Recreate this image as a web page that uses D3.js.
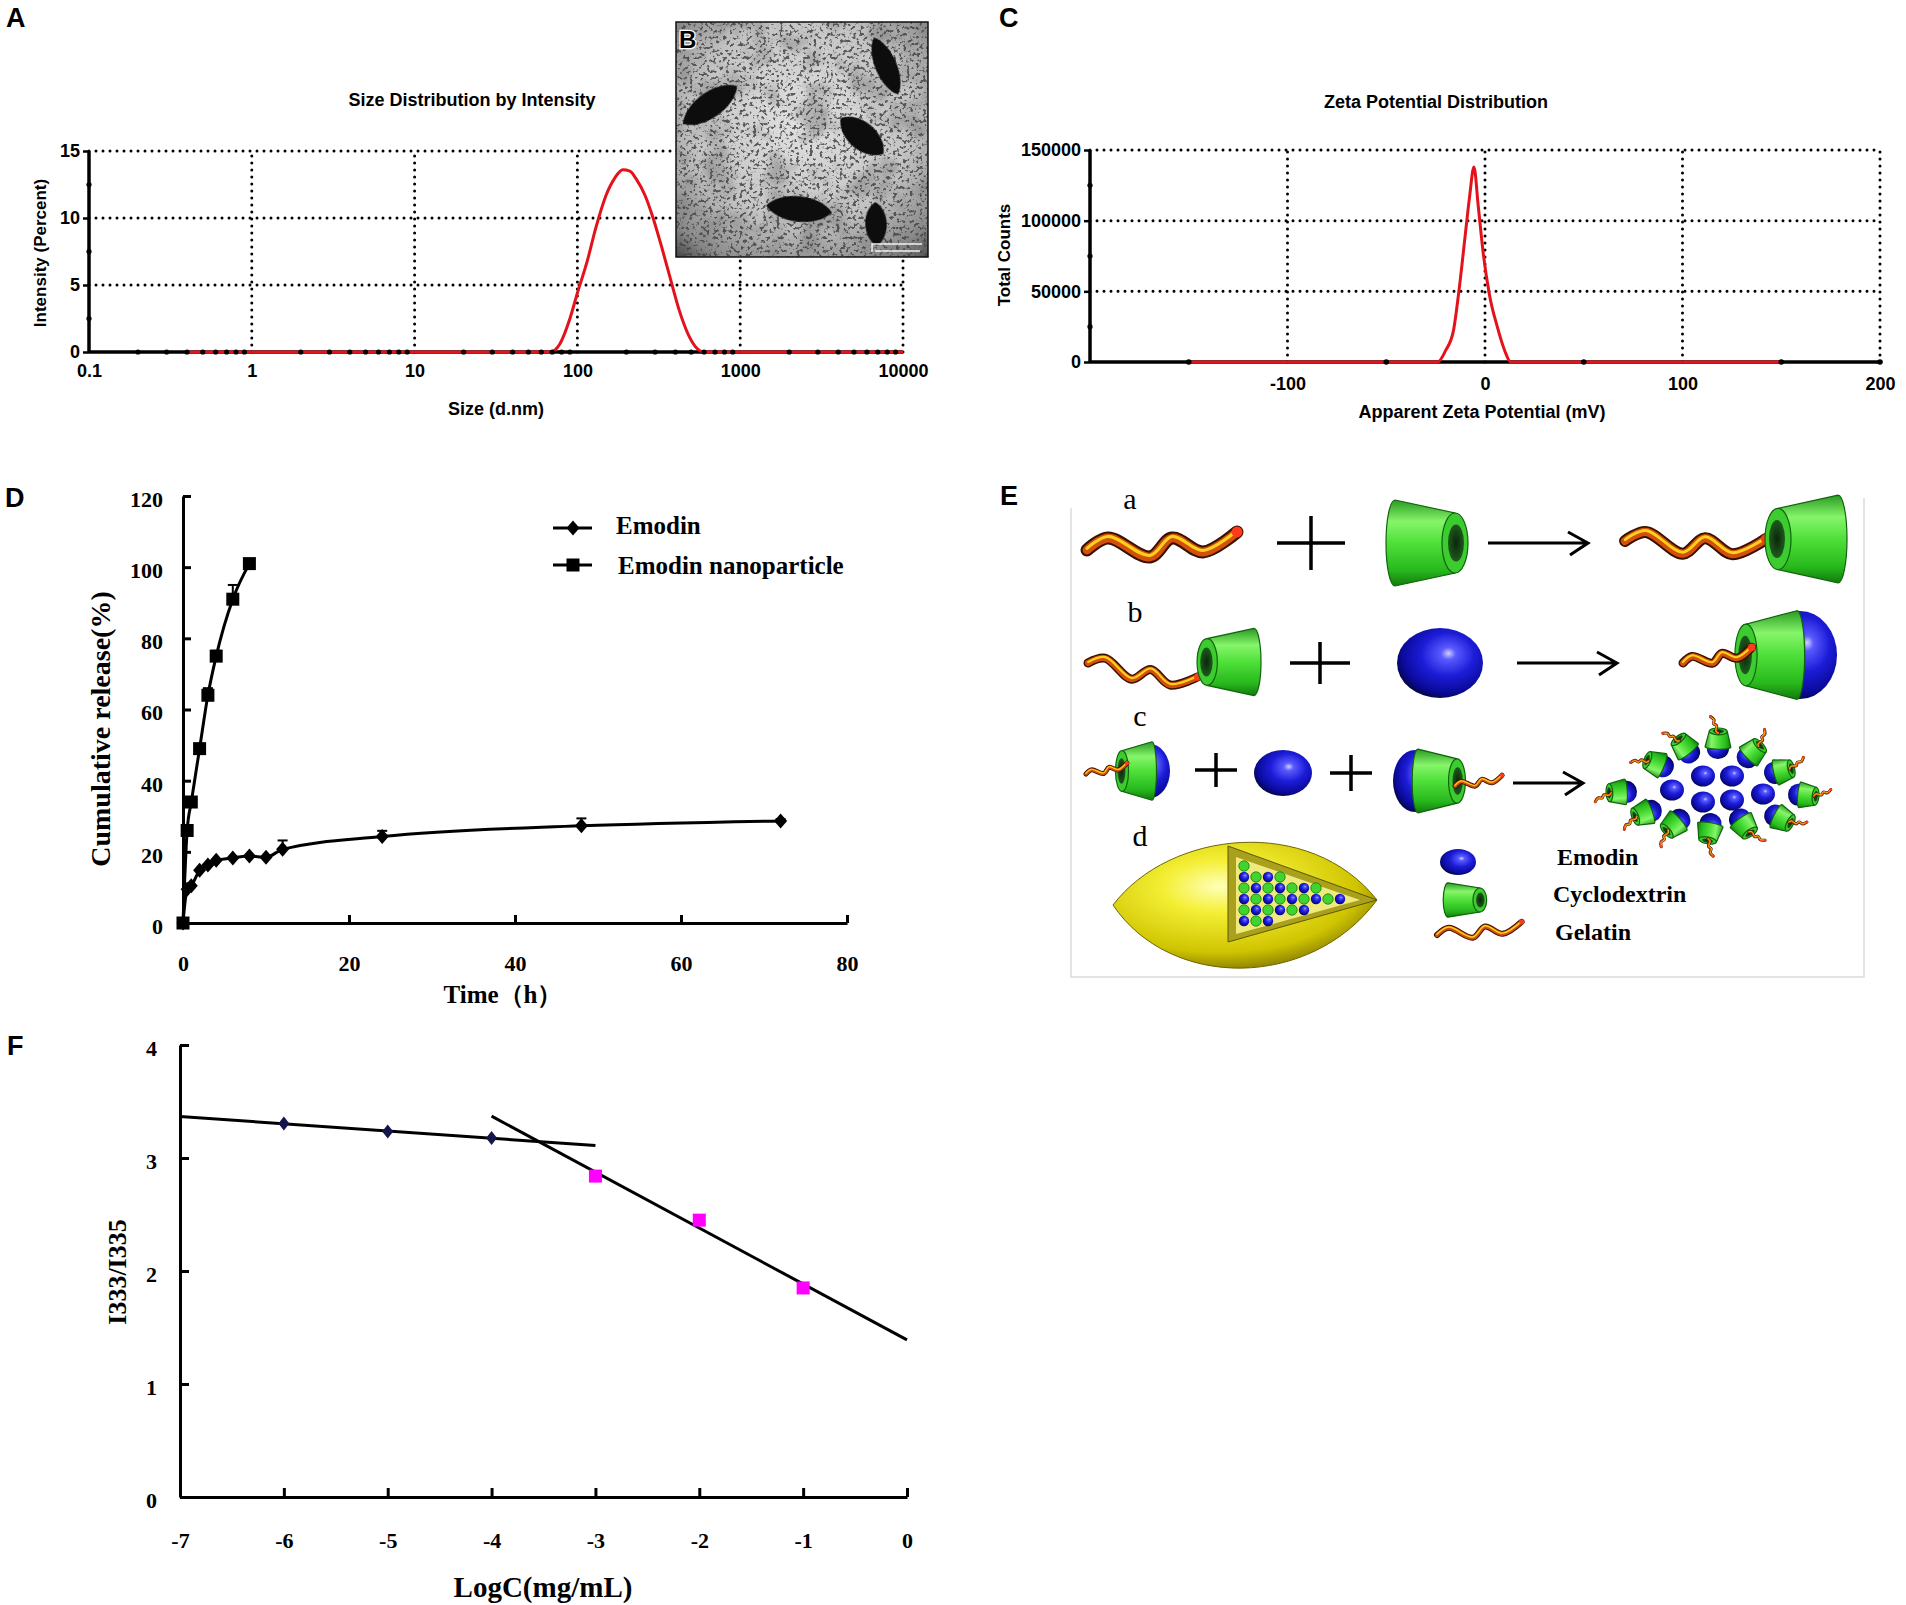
<!DOCTYPE html>
<html>
<head>
<meta charset="utf-8">
<script src="https://cdn.jsdelivr.net/npm/d3@7"></script>
<style>
  body { margin: 0; background: #fff; }
  .dot { stroke: #000; stroke-width: 3; stroke-dasharray: 0 7; stroke-linecap: round; fill: none; }
</style>
</head>
<body>
<div id="fig"></div>
<script>
// ---------- data ----------
// A: size distribution by intensity
var sizeNm = [0.4, 68, 78, 90, 100, 115, 130, 150, 170, 190, 210, 230, 260, 290, 330, 370, 420, 480, 540, 600, 10000];
var sizeIntensity = [0, 0, 0.6, 2.5, 4.4, 6.8, 9.3, 11.7, 13.0, 13.6, 13.5, 12.9, 11.7, 10.1, 7.8, 5.6, 3.2, 1.3, 0.3, 0, 0];
var sizeTicks = [0.1, 1, 10, 100, 1000, 10000];
var intensityTicks = [0, 5, 10, 15];
var intensityMinor = [2.5, 7.5, 12.5];

// C: zeta potential distribution
var zetaMv = [-150, -24, -20, -16, -13.4, -10.3, -7.8, -5.6, -3.4, -0.9, 2.2, 6.2, 10, 13, 150];
var zetaCounts = [0, 0, 8000, 22000, 48000, 86000, 117000, 138000, 110000, 77000, 48000, 25000, 8000, 0, 0];
var zetaTicks = [-100, 0, 100, 200];
var zetaMinor = [-150, -50, 50, 150];
var countTicks = [0, 50000, 100000, 150000];
var countMinor = [25000, 75000, 125000];

// D: cumulative release
var nanoTime = [0, 0.5, 1, 2, 3, 4, 6, 8];
var nanoRelease = [0, 26, 34, 49, 64, 75, 91, 101];
var nanoErr = [0, 0, 0.5, 1, 2, 1.5, 4, 0.5];
var emodinTime = [0, 0.5, 1, 2, 3, 4, 6, 8, 10, 12, 24, 48, 72];
var emodinRelease = [0, 9.5, 10.5, 14.8, 16.3, 17.6, 18.3, 18.8, 18.5, 20.7, 24.3, 27.3, 28.7];
var emodinErr = [0, 0, 0, 0, 0, 0, 0, 0, 0, 2.5, 1.6, 2.1, 0.5];
var timeTicks = [0, 20, 40, 60, 80];
var releaseTicks = [0, 20, 40, 60, 80, 100, 120];
var releaseSeries = ["Emodin", "Emodin nanoparticle"];

// F: I333/I335 vs LogC
var logCLow = [-6, -5, -4];
var ratioLow = [3.305, 3.235, 3.176];
var logCHigh = [-3, -2, -1];
var ratioHigh = [2.84, 2.45, 1.85];
var lowFitRange = [-7, -3];
var highFitRange = [-4, 0];
var logCTicks = [-7, -6, -5, -4, -3, -2, -1, 0];
var ratioTicks = [0, 1, 2, 3, 4];

// E: legend names
var schemeNames = ["Emodin", "Cyclodextrin", "Gelatin"];

var SANS = "'Liberation Sans', Arial, sans-serif";
var SERIF = "'Liberation Serif', 'Times New Roman', serif";

var svg = d3.select("#fig").append("svg")
    .attr("width", 1906).attr("height", 1605)
    .style("background", "#fff");
var defs = svg.append("defs");

function zip(a, b) { return a.map(function(v, i) { return [v, b[i]]; }); }
function plain(d) { return String(d); }

function styleAxis(g, family, size, weight, width) {
  g.attr("font-family", family).attr("font-size", size).attr("font-weight", weight);
  g.selectAll("text").attr("fill", "#000");
  g.selectAll("line").attr("stroke", "#000").attr("stroke-width", width);
  g.select(".domain").attr("stroke", "#000").attr("stroke-width", width);
}

function panelLabel(t, x, y) {
  svg.append("text").attr("x", x).attr("y", y).text(t)
      .style("font-family", SANS).style("font-weight", "bold").style("font-size", "27px");
}

function sansText(g, t, x, y, size, rot) {
  return g.append("text")
      .attr("transform", "translate(" + x + "," + y + ")" + (rot ? " rotate(" + rot + ")" : ""))
      .attr("text-anchor", "middle")
      .style("font-family", SANS).style("font-weight", "bold").style("font-size", size + "px")
      .text(t);
}

// ---------- Panel A ----------
var xA = d3.scaleLog().domain([0.1, 10000]).range([89, 903]);
var yA = d3.scaleLinear().domain([0, 15]).range([352, 151]);
var gA = svg.append("g");

gA.selectAll(".hgA").data(intensityTicks.slice(1)).enter().append("line")
    .attr("class", "dot")
    .attr("x1", xA(0.1)).attr("x2", xA(10000))
    .attr("y1", function(d) { return yA(d); }).attr("y2", function(d) { return yA(d); });
gA.selectAll(".vgA").data(sizeTicks.slice(1)).enter().append("line")
    .attr("class", "dot")
    .attr("x1", function(d) { return xA(d); }).attr("x2", function(d) { return xA(d); })
    .attr("y1", yA(0)).attr("y2", yA(15));

gA.append("line").attr("x1", xA(0.1)).attr("x2", xA(0.1)).attr("y1", yA(0)).attr("y2", yA(15))
    .attr("stroke", "#000").attr("stroke-width", 3.5);
gA.append("line").attr("x1", xA(0.1)).attr("x2", xA(10000)).attr("y1", yA(0)).attr("y2", yA(0))
    .attr("stroke", "#000").attr("stroke-width", 3.5);

gA.append("path")
    .datum(zip(sizeNm, sizeIntensity))
    .attr("fill", "none").attr("stroke", "#e3121b").attr("stroke-width", 3)
    .attr("d", d3.line().x(function(d) { return xA(d[0]); }).y(function(d) { return yA(d[1]); }).curve(d3.curveMonotoneX));

var sizeMinor = xA.ticks().filter(function(t) { return sizeTicks.indexOf(t) < 0; });
gA.selectAll(".mxA").data(sizeMinor).enter().append("circle")
    .attr("cx", function(d) { return xA(d); }).attr("cy", yA(0)).attr("r", 2.6).attr("fill", "#000");
gA.selectAll(".myA").data(intensityMinor).enter().append("circle")
    .attr("cx", xA(0.1)).attr("cy", function(d) { return yA(d); }).attr("r", 2.6).attr("fill", "#000");

gA.append("g").attr("transform", "translate(0," + yA(0) + ")")
    .call(d3.axisBottom(xA).tickValues(sizeTicks).tickFormat(plain).tickSize(0).tickPadding(12))
    .call(function(g) { g.select(".domain").remove(); styleAxis(g, SANS, 18, "bold", 2); });
gA.append("g").attr("transform", "translate(" + xA(0.1) + ",0)")
    .call(d3.axisLeft(yA).tickValues(intensityTicks).tickFormat(plain).tickSize(6).tickPadding(3))
    .call(function(g) { g.select(".domain").remove(); styleAxis(g, SANS, 18, "bold", 2.5); });

sansText(gA, "Size Distribution by Intensity", 472, 106, 18);
sansText(gA, "Size (d.nm)", 496, 415, 18);
sansText(gA, "Intensity (Percent)", 46, 253, 17, -90);

// inset B: TEM picture
var inset = { x: 676, y: 22, w: 252, h: 235 };
var bg = defs.append("radialGradient").attr("id", "temBg").attr("cx", 0.5).attr("cy", 0.42).attr("r", 0.78);
bg.append("stop").attr("offset", 0).attr("stop-color", "#e2e2e2");
bg.append("stop").attr("offset", 0.55).attr("stop-color", "#c4c4c4");
bg.append("stop").attr("offset", 0.85).attr("stop-color", "#8a8a8a");
bg.append("stop").attr("offset", 1).attr("stop-color", "#3a3a3a");
var fSpeck = defs.append("filter").attr("id", "speck").attr("x", 0).attr("y", 0).attr("width", 1).attr("height", 1);
fSpeck.append("feTurbulence").attr("type", "fractalNoise").attr("baseFrequency", 0.3).attr("numOctaves", 2).attr("seed", 11);
fSpeck.append("feColorMatrix").attr("type", "matrix")
    .attr("values", "0 0 0 0 0.06  0 0 0 0 0.06  0 0 0 0 0.06  -8 0 0 0 3.6");
var fCloud = defs.append("filter").attr("id", "cloud").attr("x", 0).attr("y", 0).attr("width", 1).attr("height", 1);
fCloud.append("feTurbulence").attr("type", "fractalNoise").attr("baseFrequency", 0.03).attr("numOctaves", 3).attr("seed", 4);
fCloud.append("feColorMatrix").attr("type", "matrix")
    .attr("values", "0 0 0 0 0.2  0 0 0 0 0.2  0 0 0 0 0.2  -3.2 0 0 0 1.75");
var fSoft = defs.append("filter").attr("id", "soft");
fSoft.append("feGaussianBlur").attr("stdDeviation", 0.7);

var gB = svg.append("g");
gB.append("rect").attr("x", inset.x).attr("y", inset.y).attr("width", inset.w).attr("height", inset.h).attr("fill", "url(#temBg)");
gB.append("rect").attr("x", inset.x).attr("y", inset.y).attr("width", inset.w).attr("height", inset.h).attr("fill", "#000").attr("filter", "url(#cloud)").attr("opacity", 0.5);
gB.append("rect").attr("x", inset.x).attr("y", inset.y).attr("width", inset.w).attr("height", inset.h).attr("fill", "#000").attr("filter", "url(#speck)").attr("opacity", 0.85);
// particles: centre x, centre y, half length, half width, angle
var particles = [[886, 66, 31, 11, 67], [710, 105, 33, 13, -35], [862, 136, 28, 14, 40], [799, 209, 33, 13, 6], [876, 224, 22, 11, 88]];
gB.selectAll(".part").data(particles).enter().append("path")
    .attr("transform", function(d) { return "translate(" + d[0] + "," + d[1] + ") rotate(" + d[4] + ")"; })
    .attr("d", function(d) {
      var l = d[2], w = d[3];
      return "M" + (-l) + ",0C" + (-l * 0.6) + "," + (-w * 1.3) + " " + (l * 0.6) + "," + (-w * 1.3) + " " + l + ",0" +
             "C" + (l * 0.6) + "," + (w * 1.3) + " " + (-l * 0.6) + "," + (w * 1.3) + " " + (-l) + ",0Z";
    })
    .attr("fill", "#0c0c0c").attr("filter", "url(#soft)");
gB.append("path").attr("d", "M872,252 L872,244 L922,244 M875,251 L920,251")
    .attr("stroke", "#f2f2f2").attr("stroke-width", 1.5).attr("fill", "none");
gB.append("rect").attr("x", inset.x).attr("y", inset.y).attr("width", inset.w).attr("height", inset.h)
    .attr("fill", "none").attr("stroke", "#111").attr("stroke-width", 1.5);
gB.append("text").attr("x", inset.x + 3).attr("y", inset.y + 26).text("B")
    .style("font-family", SANS).style("font-weight", "bold").style("font-size", "24px")
    .attr("fill", "#000").attr("stroke", "#fff").attr("stroke-width", 2.5).style("paint-order", "stroke");

// ---------- Panel C ----------
var xC = d3.scaleLinear().domain([-200, 200]).range([1090, 1880]);
var yC = d3.scaleLinear().domain([0, 150000]).range([362, 150]);
var gC = svg.append("g");

gC.selectAll(".hgC").data(countTicks.slice(1)).enter().append("line")
    .attr("class", "dot")
    .attr("x1", xC(-200)).attr("x2", xC(200))
    .attr("y1", function(d) { return yC(d); }).attr("y2", function(d) { return yC(d); });
gC.selectAll(".vgC").data(zetaTicks).enter().append("line")
    .attr("class", "dot")
    .attr("x1", function(d) { return xC(d); }).attr("x2", function(d) { return xC(d); })
    .attr("y1", yC(0)).attr("y2", yC(150000));

gC.append("line").attr("x1", xC(-200)).attr("x2", xC(-200)).attr("y1", yC(0)).attr("y2", yC(150000))
    .attr("stroke", "#000").attr("stroke-width", 3.5);
gC.append("line").attr("x1", xC(-200)).attr("x2", xC(200)).attr("y1", yC(0)).attr("y2", yC(0))
    .attr("stroke", "#000").attr("stroke-width", 3.5);

gC.append("path")
    .datum(zip(zetaMv, zetaCounts))
    .attr("fill", "none").attr("stroke", "#e3121b").attr("stroke-width", 3)
    .attr("d", d3.line().x(function(d) { return xC(d[0]); }).y(function(d) { return yC(d[1]); }).curve(d3.curveMonotoneX));

gC.selectAll(".mxC").data(zetaMinor.concat([200])).enter().append("circle")
    .attr("cx", function(d) { return xC(d); }).attr("cy", yC(0)).attr("r", 2.8).attr("fill", "#000");
gC.selectAll(".myC").data(countMinor).enter().append("circle")
    .attr("cx", xC(-200)).attr("cy", function(d) { return yC(d); }).attr("r", 2.6).attr("fill", "#000");

gC.append("g").attr("transform", "translate(0," + yC(0) + ")")
    .call(d3.axisBottom(xC).tickValues(zetaTicks).tickFormat(plain).tickSize(0).tickPadding(15))
    .call(function(g) { g.select(".domain").remove(); styleAxis(g, SANS, 18, "bold", 2); });
gC.append("g").attr("transform", "translate(" + xC(-200) + ",0)")
    .call(d3.axisLeft(yC).tickValues(countTicks).tickFormat(plain).tickSize(6).tickPadding(3))
    .call(function(g) { g.select(".domain").remove(); styleAxis(g, SANS, 18, "bold", 2.5); });

sansText(gC, "Zeta Potential Distribution", 1436, 108, 18);
sansText(gC, "Apparent Zeta Potential (mV)", 1482, 418, 18);
sansText(gC, "Total Counts", 1010, 255, 17, -90);

// ---------- Panel D ----------
var xD = d3.scaleLinear().domain([0, 80]).range([183, 847]);
var yD = d3.scaleLinear().domain([0, 120]).range([923, 496]);
var gD = svg.append("g");

gD.append("g").attr("transform", "translate(0," + yD(0) + ")")
    .call(d3.axisBottom(xD).tickValues(timeTicks).tickFormat(plain).tickSizeInner(-8).tickSizeOuter(0).tickPadding(32))
    .call(function(g) { styleAxis(g, SERIF, 22, "bold", 3); });
gD.append("g").attr("transform", "translate(" + xD(0) + ",0)")
    .call(d3.axisLeft(yD).tickValues(releaseTicks).tickFormat(plain).tickSizeInner(-8).tickSizeOuter(0).tickPadding(20))
    .call(function(g) { styleAxis(g, SERIF, 22, "bold", 3); g.selectAll("text").attr("dy", "0.47em"); });

var lineD = d3.line().x(function(d) { return xD(d[0]); }).y(function(d) { return yD(d[1]); }).curve(d3.curveMonotoneX);
var diamond = "M0,-7.5L6.5,0L0,7.5L-6.5,0Z";

function releaseSeriesDraw(times, vals, errs, marker) {
  var pts = times.map(function(t, i) { return { t: t, v: vals[i], e: errs[i] }; });
  gD.append("path").datum(zip(times, vals)).attr("d", lineD)
      .attr("fill", "none").attr("stroke", "#000").attr("stroke-width", 3);
  var eb = gD.selectAll(null).data(pts.filter(function(p) { return p.e > 0; })).enter().append("g");
  eb.append("line").attr("x1", function(p) { return xD(p.t); }).attr("x2", function(p) { return xD(p.t); })
      .attr("y1", function(p) { return yD(p.v); }).attr("y2", function(p) { return yD(p.v + p.e); })
      .attr("stroke", "#000").attr("stroke-width", 2);
  eb.append("line").attr("x1", function(p) { return xD(p.t) - 5; }).attr("x2", function(p) { return xD(p.t) + 5; })
      .attr("y1", function(p) { return yD(p.v + p.e); }).attr("y2", function(p) { return yD(p.v + p.e); })
      .attr("stroke", "#000").attr("stroke-width", 2);
  if (marker === "square") {
    gD.selectAll(null).data(pts).enter().append("rect")
        .attr("x", function(p) { return xD(p.t) - 6.5; }).attr("y", function(p) { return yD(p.v) - 6.5; })
        .attr("width", 13).attr("height", 13).attr("fill", "#000");
  } else {
    gD.selectAll(null).data(pts).enter().append("path")
        .attr("transform", function(p) { return "translate(" + xD(p.t) + "," + yD(p.v) + ")"; })
        .attr("d", diamond).attr("fill", "#000");
  }
}
releaseSeriesDraw(emodinTime, emodinRelease, emodinErr, "diamond");
releaseSeriesDraw(nanoTime, nanoRelease, nanoErr, "square");

// legend D
var legD = gD.append("g");
releaseSeries.forEach(function(name, i) {
  var ly = 528 + i * 37;
  legD.append("line").attr("x1", 553).attr("x2", 592).attr("y1", ly).attr("y2", ly).attr("stroke", "#000").attr("stroke-width", 3);
  if (i === 0) {
    legD.append("path").attr("transform", "translate(573," + ly + ")").attr("d", diamond).attr("fill", "#000");
  } else {
    legD.append("rect").attr("x", 566.5).attr("y", ly - 6.5).attr("width", 13).attr("height", 13).attr("fill", "#000");
  }
  legD.append("text").attr("x", 616 + i * 2).attr("y", ly + 6 + i * 3).text(name)
      .style("font-family", SERIF).style("font-weight", "bold").style("font-size", "25px");
});

gD.append("text").attr("transform", "translate(110,729) rotate(-90)").attr("text-anchor", "middle").text("Cumulative release(%)")
    .style("font-family", SERIF).style("font-weight", "bold").style("font-size", "28px");
gD.append("text").attr("x", 503).attr("y", 1003).attr("text-anchor", "middle").text("Time（h）")
    .style("font-family", SERIF).style("font-weight", "bold").style("font-size", "25px");

// ---------- Panel F ----------
var xF = d3.scaleLinear().domain([-7, 0]).range([180, 907]);
var yF = d3.scaleLinear().domain([0, 4]).range([1497, 1045]);
var gF = svg.append("g");

gF.append("g").attr("transform", "translate(0," + yF(0) + ")")
    .call(d3.axisBottom(xF).tickValues(logCTicks).tickFormat(plain).tickSizeInner(-9).tickSizeOuter(0).tickPadding(35))
    .call(function(g) { styleAxis(g, SERIF, 22, "bold", 3); });
gF.append("g").attr("transform", "translate(" + xF(-7) + ",0)")
    .call(d3.axisLeft(yF).tickValues(ratioTicks).tickFormat(plain).tickSizeInner(-9).tickSizeOuter(0).tickPadding(23))
    .call(function(g) { styleAxis(g, SERIF, 22, "bold", 3); g.selectAll("text").attr("dy", "0.47em"); });

function fit(xs, ys) {
  var mx = d3.mean(xs), my = d3.mean(ys);
  var sxy = d3.sum(xs, function(x, i) { return (x - mx) * (ys[i] - my); });
  var sxx = d3.sum(xs, function(x) { return (x - mx) * (x - mx); });
  var b = sxy / sxx;
  return function(x) { return my + b * (x - mx); };
}
var fLow = fit(logCLow, ratioLow), fHigh = fit(logCHigh, ratioHigh);
[[lowFitRange, fLow], [highFitRange, fHigh]].forEach(function(p) {
  gF.append("line")
      .attr("x1", xF(p[0][0])).attr("y1", yF(p[1](p[0][0])))
      .attr("x2", xF(p[0][1])).attr("y2", yF(p[1](p[0][1])))
      .attr("stroke", "#000").attr("stroke-width", 3);
});
gF.selectAll(".dF").data(zip(logCLow, ratioLow)).enter().append("path")
    .attr("transform", function(d) { return "translate(" + xF(d[0]) + "," + yF(d[1]) + ")"; })
    .attr("d", "M0,-7L5.5,0L0,7L-5.5,0Z").attr("fill", "#15154a");
gF.selectAll(".sF").data(zip(logCHigh, ratioHigh)).enter().append("rect")
    .attr("x", function(d) { return xF(d[0]) - 6.5; }).attr("y", function(d) { return yF(d[1]) - 6.5; })
    .attr("width", 13).attr("height", 13).attr("fill", "#ff00ff");

gF.append("text").attr("transform", "translate(126,1272) rotate(-90)").attr("text-anchor", "middle").text("I333/I335")
    .style("font-family", SERIF).style("font-weight", "bold").style("font-size", "26px");
gF.append("text").attr("x", 543).attr("y", 1597).attr("text-anchor", "middle").text("LogC(mg/mL)")
    .style("font-family", SERIF).style("font-weight", "bold").style("font-size", "29px");

// ---------- Panel E: scheme ----------
var sg = defs.append("radialGradient").attr("id", "sphereGrad").attr("cx", 0.58).attr("cy", 0.4).attr("r", 0.62).attr("fx", 0.6).attr("fy", 0.36);
sg.append("stop").attr("offset", 0).attr("stop-color", "#d0d0ff");
sg.append("stop").attr("offset", 0.14).attr("stop-color", "#5a5aff");
sg.append("stop").attr("offset", 0.5).attr("stop-color", "#1c1cd8");
sg.append("stop").attr("offset", 0.85).attr("stop-color", "#0a0a9a");
sg.append("stop").attr("offset", 1).attr("stop-color", "#05054a");
var cg = defs.append("linearGradient").attr("id", "coneGrad").attr("x1", 0).attr("y1", 0).attr("x2", 0).attr("y2", 1);
cg.append("stop").attr("offset", 0).attr("stop-color", "#2a9a22");
cg.append("stop").attr("offset", 0.25).attr("stop-color", "#86f56a");
cg.append("stop").attr("offset", 0.5).attr("stop-color", "#4fe03a");
cg.append("stop").attr("offset", 0.82).attr("stop-color", "#27b81c");
cg.append("stop").attr("offset", 1).attr("stop-color", "#137a0d");
var hg = defs.append("radialGradient").attr("id", "holeGrad");
hg.append("stop").attr("offset", 0).attr("stop-color", "#0a260a");
hg.append("stop").attr("offset", 1).attr("stop-color", "#1e5a1c");
var yg = defs.append("radialGradient").attr("id", "capsGrad").attr("cx", 0.4).attr("cy", 0.35).attr("r", 0.7);
yg.append("stop").attr("offset", 0).attr("stop-color", "#ffffb8");
yg.append("stop").attr("offset", 0.3).attr("stop-color", "#f4ef35");
yg.append("stop").attr("offset", 0.75).attr("stop-color", "#cfc400");
yg.append("stop").attr("offset", 1).attr("stop-color", "#7c7200");

var gE = svg.append("g");
var gelShape = [[0, 0], [21, -12], [63, 7], [85, -12], [116, 2], [150, -18]];
var gelLine = d3.line().curve(d3.curveCatmullRom.alpha(0.5));

function gelatin(g, x, y, len, angle, w) {
  var s = len / 150;
  var gg = g.append("g").attr("transform", "translate(" + x + "," + y + ") rotate(" + angle + ") scale(" + s + ")");
  var d = gelLine(gelShape);
  gg.append("path").attr("d", d).attr("fill", "none").attr("stroke", "#3a1000").attr("stroke-width", w / s)
      .attr("stroke-linecap", "round").attr("stroke-linejoin", "round");
  gg.append("path").attr("d", d).attr("fill", "none").attr("stroke", "#d2500a").attr("stroke-width", w * 0.68 / s)
      .attr("stroke-linecap", "round").attr("stroke-linejoin", "round");
  gg.append("path").attr("d", d).attr("fill", "none").attr("stroke", "#ffd21a").attr("stroke-width", w * 0.24 / s)
      .attr("transform", "translate(0," + (-w * 0.12 / s) + ")").attr("stroke-linecap", "round");
  var end = gelShape[gelShape.length - 1];
  gg.append("circle").attr("cx", end[0]).attr("cy", end[1]).attr("r", w * 0.42 / s).attr("fill", "#ff3b1a");
}

function cone(g, x, y, sx, sy) {
  var R = 43, r = 30, L = 60;
  var c = g.append("g").attr("transform", "translate(" + x + "," + y + ") scale(" + sx + "," + sy + ")");
  c.append("path").attr("d", "M0," + (-R) + "L" + L + "," + (-r) + "L" + L + "," + r + "L0," + R + "A9," + R + " 0 0 1 0," + (-R) + "Z")
      .attr("fill", "url(#coneGrad)").attr("stroke", "#0e650a").attr("stroke-width", 1.2).attr("vector-effect", "non-scaling-stroke");
  c.append("ellipse").attr("cx", L).attr("cy", 0).attr("rx", 13).attr("ry", r)
      .attr("fill", "#3ccc30").attr("stroke", "#0e650a").attr("stroke-width", 1.2).attr("vector-effect", "non-scaling-stroke");
  c.append("ellipse").attr("cx", L + 1).attr("cy", 0).attr("rx", 8).attr("ry", r * 0.62).attr("fill", "url(#holeGrad)");
}

function sphere(g, x, y, rx, ry) {
  g.append("ellipse").attr("cx", x).attr("cy", y).attr("rx", rx).attr("ry", ry).attr("fill", "url(#sphereGrad)");
}

function plus(g, x, y, hw, hh) {
  g.append("path").attr("d", "M" + (x - hw) + "," + y + "H" + (x + hw) + "M" + x + "," + (y - hh) + "V" + (y + hh))
      .attr("stroke", "#000").attr("stroke-width", 3.5).attr("fill", "none");
}

function arrow(g, x0, x1, y) {
  g.append("path").attr("d", "M" + x0 + "," + y + "H" + x1 + "M" + (x1 - 20) + "," + (y - 11) + "L" + x1 + "," + y + "L" + (x1 - 18) + "," + (y + 12))
      .attr("stroke", "#000").attr("stroke-width", 3).attr("fill", "none");
}

function eLetter(t, x, y) {
  gE.append("text").attr("x", x).attr("y", y).attr("text-anchor", "middle").text(t)
      .style("font-family", SERIF).style("font-size", "30px");
}

// frame
gE.append("path").attr("d", "M1071,508V977H1864V498").attr("fill", "none").attr("stroke", "#dcdcdc").attr("stroke-width", 1.5);

// row a
eLetter("a", 1130, 509);
gelatin(gE, 1087, 550, 150, 0, 13);
plus(gE, 1311, 543, 34, 27);
cone(gE, 1395, 543, 1, 1);
arrow(gE, 1488, 1588, 543);
gelatin(gE, 1625, 541, 140, 6, 12);
cone(gE, 1838, 539, -1, 1.02);

// row b
eLetter("b", 1135, 622);
gelatin(gE, 1088, 663, 110, 14, 9);
cone(gE, 1254, 662, -0.78, 0.78);
plus(gE, 1320, 663, 30, 21);
sphere(gE, 1440, 663, 43, 35);
arrow(gE, 1517, 1617, 663);
sphere(gE, 1800, 655, 37, 44);
cone(gE, 1797, 655, -0.85, 1.03);
gelatin(gE, 1683, 663, 70, -6, 9);

// row c
eLetter("c", 1140, 726);
sphere(gE, 1150, 771, 20, 27);
cone(gE, 1152, 771, -0.5, 0.68);
gelatin(gE, 1086, 774, 42, -8, 5);
plus(gE, 1216, 770, 21, 17);
sphere(gE, 1283, 773, 29, 23);
plus(gE, 1351, 773, 21, 18);
sphere(gE, 1415, 781, 22, 31);
cone(gE, 1418, 781, 0.65, 0.74);
gelatin(gE, 1455, 786, 48, -6, 5);
arrow(gE, 1513, 1583, 783);

// assembled cluster
var clusterCenter = [1717, 787];
var clusterCores = [[1703, 776], [1732, 776], [1672, 790], [1703, 802], [1732, 800], [1763, 794]];
var clusterShell = [[1660, 765], [1687, 750], [1718, 745], [1750, 755], [1778, 772], [1802, 795],
                    [1778, 817], [1742, 822], [1710, 827], [1677, 822], [1648, 812], [1623, 792]];
clusterCores.forEach(function(p) { sphere(gE, p[0], p[1], 12, 10.5); });
clusterShell.forEach(function(p) {
  var ang = Math.atan2(p[1] - clusterCenter[1], p[0] - clusterCenter[0]) * 180 / Math.PI;
  var m = gE.append("g").attr("transform", "translate(" + p[0] + "," + p[1] + ") rotate(" + ang + ")");
  sphere(m, -4, 0, 10, 11);
  cone(m, -2, 0, 0.26, 0.3);
  gelatin(m, 12, 0, 18, -20, 3);
});

// row d: gelatin capsule
eLetter("d", 1140, 846);
gE.append("path").attr("d", "M1113,905 C1170,830 1310,815 1377,900 C1310,990 1170,990 1113,905 Z")
    .attr("fill", "url(#capsGrad)").attr("stroke", "#6e6600").attr("stroke-width", 1);
gE.append("path").attr("d", "M1228,846 L1377,900 L1228,942 Z").attr("fill", "#a9a11c").attr("stroke", "#5e5700").attr("stroke-width", 1);
gE.append("path").attr("d", "M1236,857 L1360,900 L1236,934 Z").attr("fill", "#efe97e");
for (var yy = 866; yy <= 928; yy += 11) {
  for (var xx = 1244; xx < 1360; xx += 12) {
    var lim = yy < 900 ? 1236 + (yy - 857) * (124 / 43) : 1236 + (934 - yy) * (124 / 34);
    if (xx > lim - 8) continue;
    var k = Math.round((xx - 1244) / 12 + (yy - 866) / 11);
    gE.append("circle").attr("cx", xx).attr("cy", yy).attr("r", 5.2)
        .attr("fill", k % 2 ? "url(#sphereGrad)" : "#3fd42e").attr("stroke", k % 2 ? "none" : "#1a7a12").attr("stroke-width", 0.8);
  }
}

// legend E
sphere(gE, 1458, 862, 18, 13);
cone(gE, 1448, 900, 0.53, 0.4);
gelatin(gE, 1437, 935, 85, -2, 6);
schemeNames.forEach(function(name, i) {
  gE.append("text").attr("x", [1557, 1553, 1555][i]).attr("y", [865, 902, 940][i]).text(name)
      .style("font-family", SERIF).style("font-weight", "bold").style("font-size", "24px");
});

// panel letters
panelLabel("A", 6, 27);
panelLabel("C", 999, 27);
panelLabel("D", 5, 507);
panelLabel("E", 1000, 505);
panelLabel("F", 7, 1055);
</script>
</body>
</html>
